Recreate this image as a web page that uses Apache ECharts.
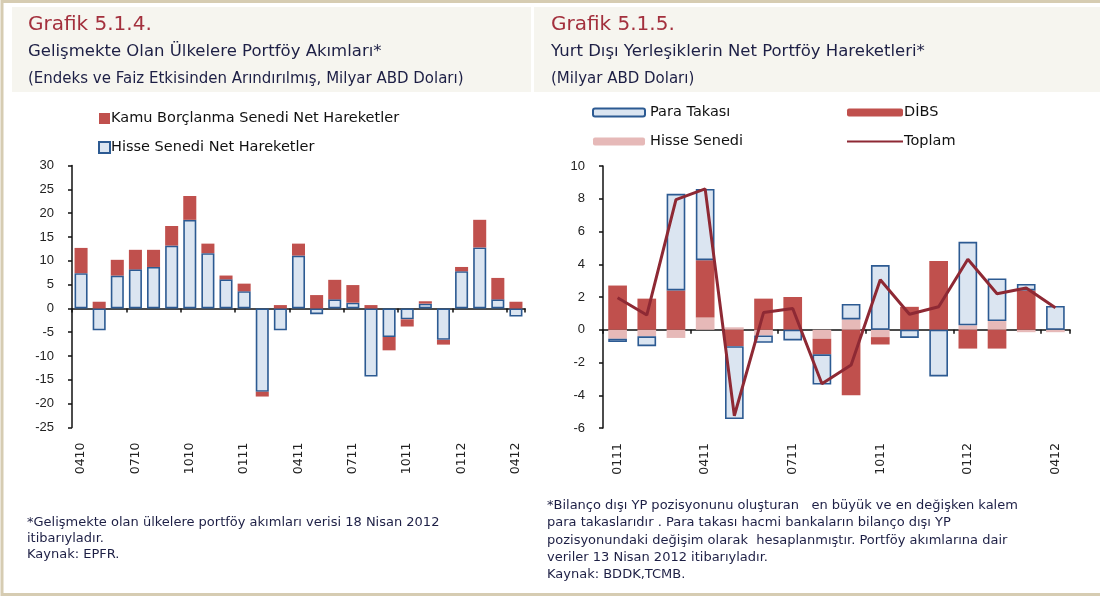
<!DOCTYPE html>
<html>
<head>
<meta charset="utf-8">
<script src="https://cdn.jsdelivr.net/npm/echarts@6/dist/echarts.min.js"></script>
<style>
  html, body { margin: 0; padding: 0; background: #fff; }
  #main { width: 1100px; height: 598px; }
</style>
</head>
<body>
<div id="main"></div>
<script>
// Grafik 5.1.4 - monthly, 04/10 .. 04/12
const monthsLeft = ['0410','0510','0610','0710','0810','0910','1010','1110','1210',
    '0111','0211','0311','0411','0511','0611','0711','0811','0911','1011','1111','1211',
    '0112','0212','0312','0412'];
const hisseLeft = [7.4, -4.6, 6.9, 8.2, 8.7, 13.2, 18.6, 11.6, 6.1, 3.6, -17.5, -4.6,
    11.1, -1.2, 1.9, 1.2, -14.3, -6.0, -2.3, 1.0, -6.6, 7.8, 12.8, 1.9, -1.7];
const kamuLeft = [5.3, 1.4, 3.3, 4.1, 3.6, 4.1, 5.0, 2.0, 0.8, 1.6, -1.0, 0.7,
    2.5, 2.8, 4.1, 3.7, 0.7, -2.8, -1.5, 0.5, -1.0, 0.9, 5.8, 4.5, 1.4];

// Grafik 5.1.5 - monthly, 01/11 .. 04/12
const monthsRight = ['0111','0211','0311','0411','0511','0611','0711','0811','0911',
    '1011','1111','1211','0112','0212','0312','0412'];
const hisseRight = [-0.55, -0.4, -0.5, 0.75, 0.15, -0.35, 0, -0.55, 0.63, -0.45, 0, 0, 0.27, 0.53, -0.15, -0.15];
const dibsRight = [2.7, 1.9, 2.4, 3.5, -1.0, 1.9, 2.0, -0.95, -4.0, -0.45, 1.4, 4.2, -1.15, -1.15, 2.4, 0];
const paraRight = [-0.2, -0.6, 5.9, 4.35, -4.45, -0.45, -0.65, -1.85, 0.95, 3.95, -0.5, -2.85, 5.1, 2.6, 0.4, 1.45];
const toplamRight = [1.95, 0.9, 7.95, 8.6, -5.25, 1.05, 1.3, -3.3, -2.15, 3.05, 0.95, 1.4, 4.3, 2.2, 2.55, 1.35];

const RED = '#c0504d';
const BLUE_FILL = '#dbe5f1';
const BLUE_LINE = '#2c5a92';
const PINK = '#e6b9b8';
const LINE_RED = '#8e2934';
const TXT = '#1d1f45';
const HEAD = 'DejaVu Sans';
const AX = 'Liberation Sans';

const chart = echarts.init(document.getElementById('main'), null, { renderer: 'canvas' });

const yLabel = { fontFamily: AX, fontSize: 13, color: '#222', margin: 18 };
const xLabel = { rotate: 90, fontFamily: HEAD, fontSize: 12.5, color: '#222', margin: 15, interval: 2 };

// zero line axis (ticks, no labels) + bottom axis (labels only)
const zeroAxis = (gi, data) => ({
    type: 'category', gridIndex: gi, data: data,
    axisLine: { onZero: true, lineStyle: { color: '#111', width: 1.6 } },
    axisTick: { show: true, interval: 2, length: 4, inside: false, lineStyle: { color: '#111', width: 1.5 } },
    axisLabel: { show: false }, splitLine: { show: false }
});
const labelAxis = (gi, data) => ({
    type: 'category', gridIndex: gi, data: data, position: 'bottom',
    axisLine: { show: false, onZero: false }, axisTick: { show: false },
    axisLabel: xLabel, splitLine: { show: false }
});

const headStyle = (size, color) => ({ fontFamily: HEAD, fontSize: size, color: color, fontWeight: 'normal' });
const noteFont = '13px "DejaVu Sans"';

const option = {
    animation: false,
    backgroundColor: '#fff',
    title: [
        { text: 'Grafik 5.1.4.', left: 28, top: 15, padding: 0, textStyle: headStyle(20, '#a3303d') },
        { text: 'Gelişmekte Olan Ülkelere Portföy Akımları*', left: 28, top: 43, padding: 0, textStyle: headStyle(16.5, TXT) },
        { text: '(Endeks ve Faiz Etkisinden Arındırılmış, Milyar ABD Doları)', left: 28, top: 72, padding: 0, textStyle: headStyle(15, TXT) },
        { text: 'Grafik 5.1.5.', left: 551, top: 15, padding: 0, textStyle: headStyle(20, '#a3303d') },
        { text: 'Yurt Dışı Yerleşiklerin Net Portföy Hareketleri*', left: 551, top: 43, padding: 0, textStyle: headStyle(16.5, TXT) },
        { text: '(Milyar ABD Doları)', left: 551, top: 72, padding: 0, textStyle: headStyle(15, TXT) }
    ],
    graphic: [
        { type: 'rect', z: -10, shape: { x: 2, y: 1.5, width: 1110, height: 593 },
          style: { fill: '#fff', stroke: '#d6ccb2', lineWidth: 3 } },
        { type: 'rect', z: -9, shape: { x: 12, y: 7, width: 519, height: 85 }, style: { fill: '#f6f5ef' } },
        { type: 'rect', z: -9, shape: { x: 534, y: 7, width: 570, height: 85 }, style: { fill: '#f6f5ef' } },
        { type: 'text', left: 27, top: 515, style: {
            text: '*Gelişmekte olan ülkelere portföy akımları verisi 18 Nisan 2012\nitibarıyladır.\nKaynak: EPFR.',
            font: noteFont, fill: TXT, lineHeight: 16 } },
        { type: 'text', left: 547, top: 497, style: {
            text: '*Bilanço dışı YP pozisyonunu oluşturan   en büyük ve en değişken kalem\n' +
                  'para takaslarıdır . Para takası hacmi bankaların bilanço dışı YP\n' +
                  'pozisyonundaki değişim olarak  hesaplanmıştır. Portföy akımlarına dair\n' +
                  'veriler 13 Nisan 2012 itibarıyladır.',
            font: noteFont, fill: TXT, lineHeight: 17.3 } },
        { type: 'text', left: 547, top: 568, style: {
            text: 'Kaynak: BDDK,TCMB.', font: noteFont, fill: TXT } }
    ],
    legend: [
        { orient: 'vertical', left: 98, top: 111, padding: 0, itemWidth: 11, itemHeight: 11, itemGap: 14,
          icon: 'rect', data: ['Kamu Borçlanma Senedi Net Hareketler', 'Hisse Senedi Net Hareketler'],
          textStyle: { fontFamily: HEAD, fontSize: 14.5, color: '#111', padding: [0, 0, 0, -4] } },
        { orient: 'vertical', left: 592, top: 105, padding: 0, itemWidth: 52, itemHeight: 8, itemGap: 14,
          data: ['Para Takası', 'Hisse Senedi'],
          textStyle: { fontFamily: HEAD, fontSize: 14.5, color: '#111' } },
        { orient: 'vertical', left: 846, top: 105, padding: 0, itemWidth: 56, itemHeight: 8, itemGap: 14,
          data: ['DİBS', { name: 'Toplam', itemStyle: { opacity: 0 } }],
          textStyle: { fontFamily: HEAD, fontSize: 14.5, color: '#111', padding: [0, 0, 0, -4] } }
    ],
    grid: [
        { left: 72, right: 575, top: 165.5, bottom: 170.5 },
        { left: 603, right: 30, top: 166, bottom: 170 }
    ],
    xAxis: [
        zeroAxis(0, monthsLeft), labelAxis(0, monthsLeft),
        zeroAxis(1, monthsRight), labelAxis(1, monthsRight)
    ],
    yAxis: [
        { type: 'value', gridIndex: 0, min: -25, max: 30, interval: 5,
          axisLine: { show: true, lineStyle: { color: '#111', width: 1.5 } },
          axisTick: { show: true, length: 4, lineStyle: { color: '#111', width: 1.5 } },
          axisLabel: yLabel, splitLine: { show: false } },
        { type: 'value', gridIndex: 1, min: -6, max: 10, interval: 2,
          axisLine: { show: true, lineStyle: { color: '#111', width: 1.5 } },
          axisTick: { show: true, length: 4, lineStyle: { color: '#111', width: 1.5 } },
          axisLabel: yLabel, splitLine: { show: false } }
    ],
    series: [
        { name: 'Hisse Senedi Net Hareketler', type: 'bar', stack: 'L', xAxisIndex: 0, yAxisIndex: 0,
          data: hisseLeft, barWidth: '72%',
          itemStyle: { color: BLUE_FILL, borderColor: BLUE_LINE, borderWidth: 1.6 } },
        { name: 'Kamu Borçlanma Senedi Net Hareketler', type: 'bar', stack: 'L', xAxisIndex: 0, yAxisIndex: 0,
          data: kamuLeft, barWidth: '72%',
          itemStyle: { color: RED } },

        { name: 'Hisse Senedi', type: 'bar', stack: 'R', xAxisIndex: 2, yAxisIndex: 1,
          data: hisseRight, barWidth: '64%', itemStyle: { color: PINK } },
        { name: 'DİBS', type: 'bar', stack: 'R', xAxisIndex: 2, yAxisIndex: 1,
          data: dibsRight, barWidth: '64%', itemStyle: { color: RED } },
        { name: 'Para Takası', type: 'bar', stack: 'R', xAxisIndex: 2, yAxisIndex: 1,
          data: paraRight, barWidth: '64%',
          itemStyle: { color: BLUE_FILL, borderColor: BLUE_LINE, borderWidth: 1.6 } },
        { name: 'Toplam', type: 'line', xAxisIndex: 2, yAxisIndex: 1, z: 5,
          data: toplamRight, symbol: 'none', showSymbol: false,
          lineStyle: { color: LINE_RED, width: 3 }, itemStyle: { color: LINE_RED } }
    ]
};

chart.setOption(option);
window.addEventListener('resize', chart.resize);
</script>
</body>
</html>
